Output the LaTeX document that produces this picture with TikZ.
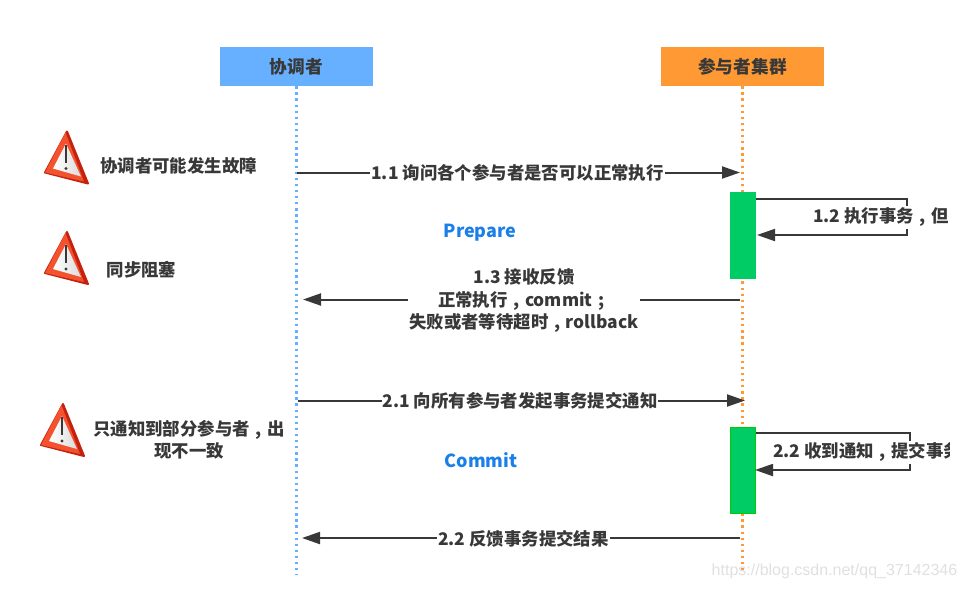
\documentclass[tikz,border=0pt]{standalone}
\usepackage{fontspec}
\setmainfont{Noto Sans CJK SC}
\newfontfamily\markfont{Liberation Sans}
\usetikzlibrary{arrows.meta}
\definecolor{coordblue}{HTML}{66B0FF}
\definecolor{partorange}{HTML}{FF9933}
\definecolor{actgreen}{HTML}{00CC66}
\definecolor{inkgray}{HTML}{383838}
\definecolor{phaseblue}{HTML}{1A7FE8}
\definecolor{warnred}{HTML}{F4512F}
\definecolor{warndark}{HTML}{C4220E}
\newcommand{\zhcomma}{\makebox[1em][c]{,}}
\newcommand{\zhsemi}{\makebox[1em][c]{;}}
\tikzset{
  headbox/.style={minimum height=39pt,inner sep=0pt,text=inkgray,font=\fontsize{17.7}{22}\selectfont\bfseries},
  actbox/.style={fill=actgreen,minimum width=26pt,minimum height=87pt,inner sep=0pt},
  lifeline/.style={line width=2.4pt,dash pattern=on 2.3pt off 3.8pt},
  msgline/.style={draw=inkgray,line width=2pt,-{Triangle[length=18pt,width=12pt]}},
  msgtext/.style={fill=white,text=inkgray,inner xsep=1pt,inner ysep=0pt,align=center,font=\fontsize{17.4}{22.5}\selectfont\bfseries},
  looptext/.style={msgtext,minimum height=23pt},
  warntext/.style={text=inkgray,inner sep=0pt,align=center,font=\fontsize{17.4}{22.5}\selectfont\bfseries},
  phasetext/.style={text=phaseblue,inner sep=0pt,font=\fontsize{18}{22}\selectfont\bfseries},
  warnsign/.pic={
    \fill[warndark,line join=round,line width=2pt,draw=warndark] (0,0) -- (-22,41) -- (21,52) -- cycle;
    \fill[warnred,line join=round] (-1.5,1) -- (-22,41) -- (17,50) -- cycle;
    \shade[left color=white,right color=black!14] (-1,12) -- (-14,37) -- (14,45) -- cycle;
    \draw[inkgray,line width=2.4pt] (-1,13) -- (-1,31);
    \fill[inkgray] (-1,37) circle (1.6);
  }
}
\begin{document}
\begin{tikzpicture}[x=1pt,y=-1pt]
  \useasboundingbox (0,0) rectangle (965,590);
  % heads and lifelines
  \node[headbox,fill=coordblue,minimum width=153pt] (coord) at (296.5,66.5) {协调者};
  \node[headbox,fill=partorange,minimum width=163pt] (part) at (742.5,66.5) {参与者集群};
  \coordinate (coordend) at (296.5,575);
  \coordinate (partend) at (742.5,575);
  \draw[lifeline,coordblue] (coord.south) -- (coordend);
  \draw[lifeline,partorange] (part.south) -- (partend);
  \node[actbox] (act1) at (743,235.5) {};
  \node[actbox,draw=green!80!black,line width=1.5pt,minimum width=25pt,minimum height=86pt] (act2) at (743,470.5) {};
  % message ends
  \coordinate (a11) at (297,172.5);
  \coordinate (b11) at (740,172.5);
  \coordinate (a12) at (756,199);
  \coordinate (b12) at (907,199);
  \coordinate (c12) at (907,235);
  \coordinate (d12) at (757,235);
  \coordinate (a13) at (740,299.5);
  \coordinate (b13) at (303,299.5);
  \coordinate (a21) at (298,400.5);
  \coordinate (b21) at (745,400.5);
  \coordinate (a22) at (756,433);
  \coordinate (b22) at (910,433);
  \coordinate (c22) at (910,470);
  \coordinate (d22) at (755,470);
  \coordinate (a23) at (740,538);
  \coordinate (b23) at (302,538);
  % messages
  \draw[msgline] (a11) -- (b11);
  \draw[msgline] (a12) -- (b12) -- (c12) -- (d12);
  \draw[msgline] (a13) -- (b13);
  \draw[msgline] (a21) -- (b21);
  \draw[msgline] (a22) -- (b22) -- (c22) -- (d22);
  \draw[msgline] (a23) -- (b23);
  \node[msgtext] (l11) at (517.5,173) {1.1 询问各个参与者是否可以正常执行};
  \node[looptext] (l12) at (881,217.5) {1.2 执行事务\zhcomma 但};
  \node[msgtext] (l13) at (524,301) {1.3 接收反馈\\正常执行\zhcomma commit\zhsemi\\失败或者等待超时\zhcomma rollback};
  \node[msgtext] (l21) at (520,401) {2.1 向所有参与者发起事务提交通知};
  \begin{scope}
    \clip (760,430) rectangle (949,480);
    \node[looptext,anchor=west] (l22) at (772,452) {2.2 收到通知\zhcomma 提交事务};
  \end{scope}
  \node[msgtext] (l23) at (523.5,538.5) {2.2 反馈事务提交结果};
  % phases
  \node[phasetext] (prepare) at (480,232.5) {Prepare};
  \node[phasetext] (commit) at (481,460) {Commit};
  % warnings
  \pic at (67,131.5) {warnsign};
  \pic at (67,232) {warnsign};
  \pic at (63,404) {warnsign};
  \node[warntext] (w1) at (178.5,166) {协调者可能发生故障};
  \node[warntext] (w2) at (141.5,270) {同步阻塞};
  \node[warntext] (w3) at (189,439.5) {只通知到部分参与者\zhcomma 出\\现不一致};
  \node[inner sep=0pt,text=black!12,font=\fontsize{16}{20}\selectfont\markfont] (mark) at (834.5,571) {https://blog.csdn.net/qq\_37142346};
\end{tikzpicture}
\end{document}
